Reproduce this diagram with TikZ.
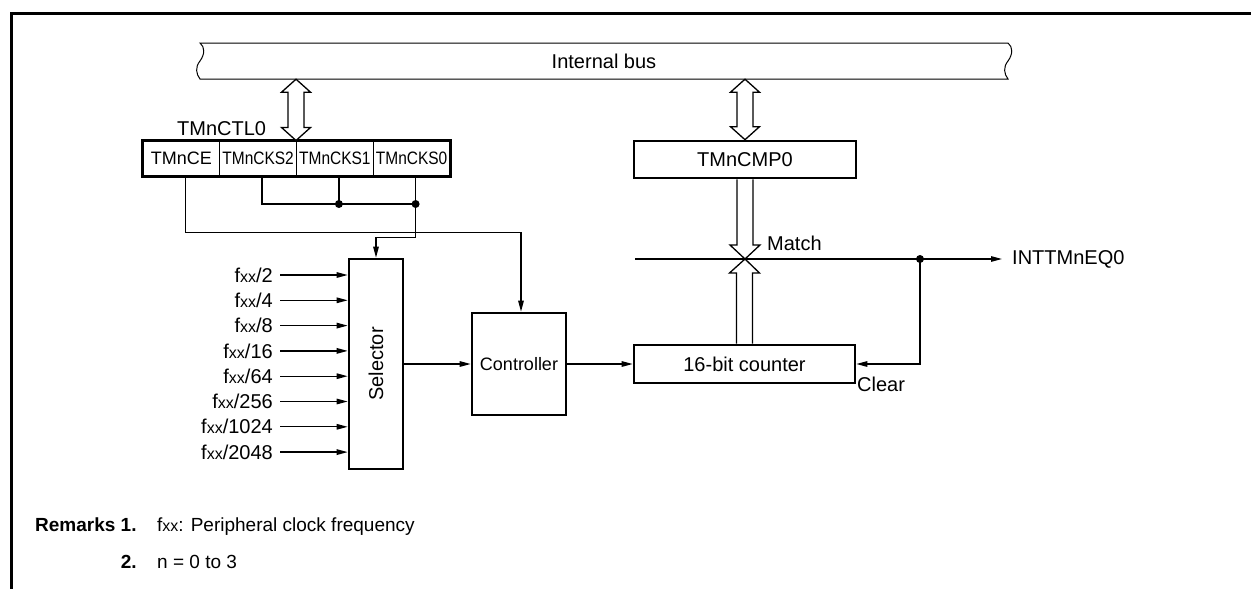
\documentclass[tikz,border=0pt]{standalone}
\usepackage{fontspec}
\setmainfont{Liberation Sans}
\newfontfamily\narrowfamily[FakeStretch=0.86]{Liberation Sans}
\usepackage{graphicx}
\usetikzlibrary{arrows.meta, calc}

\newcommand\lblsize{\fontsize{20}{24}\selectfont}
\newcommand\fxx{f{\fontsize{16}{18}\selectfont xx}}

\tikzset{
  wire/.style={line width=1.3pt},
  arr/.style={wire, -{Triangle[length=11pt, width=5.5pt]}},
  block/.style={
    rectangle, draw, line width=2.6pt, inner sep=0pt,
    text centered, font=\lblsize
  },
  cell/.style={
    rectangle, draw, line width=1pt, inner sep=0pt,
    minimum width=76.75pt, minimum height=35pt,
    font=\fontsize{18}{20}\selectfont
  },
  ncell/.style={cell, font=\fontsize{18}{20}\narrowfamily},
  lbl/.style={inner sep=0pt, font=\lblsize},
  dot/.style={circle, fill, inner sep=0pt, minimum size=8pt},
}

% bus connector: open double arrow between two points
\newcommand\busarrow[2]{%
  \draw[wire, fill=white] let \p1=(#1), \p2=(#2) in
    (\x1,\y1) -- (\x1+14.5pt,\y1-13pt) -- (\x1+8pt,\y1-13pt)
    -- (\x1+8pt,\y2+13pt) -- (\x1+14.5pt,\y2+13pt) -- (\x2,\y2)
    -- (\x1-14.5pt,\y2+13pt) -- (\x1-8pt,\y2+13pt)
    -- (\x1-8pt,\y1-13pt) -- (\x1-14.5pt,\y1-13pt) -- cycle;}
% hollow arrow from #1 to tip #2, head on side #3
\newcommand\hollowarrow[3]{%
  \draw[wire] let \p1=(#1), \p2=(#2) in
    (\x1-8pt,\y1) -- (\x1-8pt,\y2#314pt) -- (\x1-15pt,\y2#314pt) -- (\x2,\y2)
    -- (\x1+15pt,\y2#314pt) -- (\x1+8pt,\y2#314pt) -- (\x1+8pt,\y1);}

\begin{document}
\begin{tikzpicture}[x=1pt, y=-1pt]
  \useasboundingbox (0,0) rectangle (1251,589);

  % frame
  \draw[line width=3pt] (11,589) -- (11,13) -- (1251,13);

  % internal bus
  \draw[wire, line width=1pt, fill=white]
    (200,43) -- (1008,43)
    .. controls (1013,47) and (1013,54) .. (1008,61)
    .. controls (1003,67) and (1004,74) .. (1008,79)
    -- (200,79)
    .. controls (196,74) and (195,67) .. (200,61)
    .. controls (205,54) and (205,47) .. (200,43) -- cycle;
  \node[lbl, minimum width=808pt, minimum height=36pt] (bus) at (604,61) {Internal bus};

  % ── nodes ─────────────────────────────────────────────────────────────────
  \node[cell]  (ce)   at (181.4,158.5) {TMnCE};
  \node[ncell] (cks2) at (258.1,158.5) {TMnCKS2};
  \node[ncell] (cks1) at (334.9,158.5) {TMnCKS1};
  \node[ncell] (cks0) at (411.6,158.5) {TMnCKS0};
  \draw[line width=2.6pt] (ce.north west) rectangle (cks0.south east);
  \node[lbl, anchor=west] (ctl) at (177,129) {TMnCTL0};

  \node[block, minimum width=222pt, minimum height=37pt]  (cmp)  at (745,159.5) {TMnCMP0};
  \node[block, minimum width=54pt,  minimum height=210pt] (sel)  at (376,364) {\rotatebox{90}{Selector}};
  \node[block, minimum width=94pt,  minimum height=102pt, font=\fontsize{18}{22}\selectfont] (ctrl) at (519,364) {Controller};
  \node[block, minimum width=221pt, minimum height=38pt]  (cnt)  at (744.5,364) {16-bit counter};

  \node[lbl, anchor=west] (eq)    at (1012,259) {INTTMnEQ0};
  \node[lbl, anchor=west] (match) at (767,243)  {Match};
  \node[lbl, anchor=north west] (clr) at (857,377) {Clear};

  \coordinate (k1)    at (338.9,204);
  \coordinate (k0)    at (415.6,204);
  \coordinate (mleft) at (635,259);
  \coordinate (m)     at (cmp.south |- mleft);
  \coordinate (tap)   at (920,259);

  % ── edges ─────────────────────────────────────────────────────────────────
  \busarrow{bus.south -| cks1.north west}{cks1.north west}
  \busarrow{bus.south -| cmp.north}{cmp.north}

  \draw[wire] ([xshift=4pt]cks2.south) |- (k0);
  \draw[wire] ([xshift=4pt]cks1.south) -- (k1);
  \draw[arr]  ([xshift=4pt]cks0.south) -- ++(0,61) -| (sel.north);
  \draw[arr]  ([xshift=4pt]ce.south) -- ++(0,56) -| ([xshift=2pt]ctrl.north);
  \node[dot] at (k1) {};
  \node[dot] at (k0) {};

  \foreach \dv [count=\i] in {2,4,8,16,64,256,1024,2048} {
    \node[lbl, anchor=east] (f\i) at (273,{275+25.3*(\i-1)}) {\fxx/\dv};
    \draw[arr] ([xshift=7pt]f\i.east) -- (f\i.east -| sel.west);
  }

  \draw[arr] (sel.east)  -- (ctrl.west);
  \draw[arr] (ctrl.east) -- (cnt.west);

  \draw[arr] (mleft) -- ([xshift=-10pt]eq.west);
  \hollowarrow{cmp.south}{m}{+}
  \hollowarrow{cnt.north}{m}{-}
  \node[dot] at (tap) {};
  \draw[arr] (tap) |- (cnt.east);

  % remarks
  \node[lbl, anchor=base west, font=\fontsize{19}{23}\selectfont\bfseries] (rem) at (35,531) {Remarks 1.};
  \node[lbl, anchor=base west, font=\fontsize{19}{23}\selectfont] (r1) at (157,531) {\fxx: Peripheral clock frequency};
  \node[lbl, anchor=base east, font=\fontsize{19}{23}\selectfont\bfseries] (n2) at ([yshift=-37pt]rem.base east) {2.};
  \node[lbl, anchor=base west, font=\fontsize{19}{23}\selectfont] (r2) at ([yshift=-37pt]r1.base west) {n = 0 to 3};
\end{tikzpicture}
\end{document}
